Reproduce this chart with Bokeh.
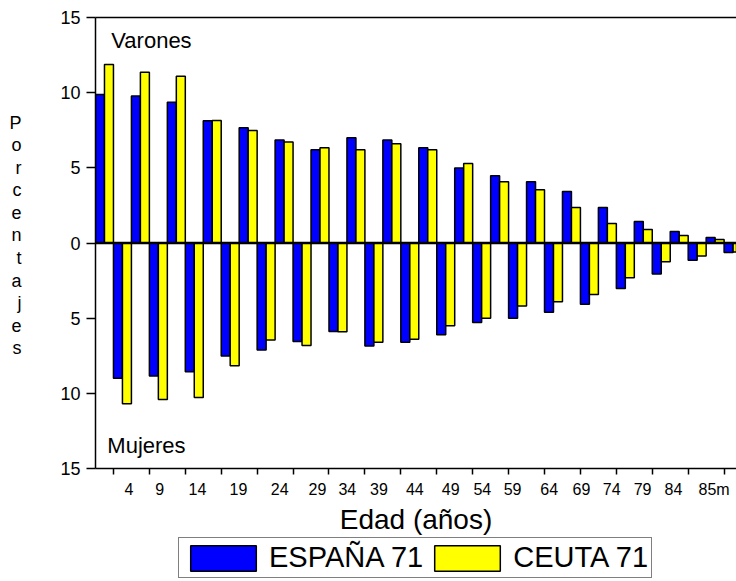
from bokeh.plotting import figure
from bokeh.layouts import column
from bokeh.models import Range1d, FixedTicker, LinearAxis, Span, Label, Legend, LegendItem
from bokeh.embed import file_html
from bokeh.resources import INLINE
import numpy as np

# ---- data ----
edades = ["4", "9", "14", "19", "24", "29", "34", "39", "44", "49", "54", "59",
          "64", "69", "74", "79", "84", "85m"]
espana_varones = [9.87, 9.77, 9.37, 8.13, 7.66, 6.85, 6.20, 7.00, 6.85, 6.34, 4.99, 4.48,
                  4.08, 3.42, 2.36, 1.43, 0.76, 0.36]
ceuta_varones = [11.87, 11.36, 11.09, 8.15, 7.49, 6.72, 6.34, 6.20, 6.60, 6.20, 5.28, 4.08,
                 3.55, 2.36, 1.29, 0.90, 0.50, 0.23]
espana_mujeres = [8.99, 8.84, 8.57, 7.51, 7.11, 6.56, 5.89, 6.85, 6.60, 6.10, 5.28, 5.01,
                  4.61, 4.08, 3.02, 2.07, 1.14, 0.63]
ceuta_mujeres = [10.70, 10.41, 10.27, 8.17, 6.45, 6.82, 5.90, 6.60, 6.40, 5.50, 5.01, 4.19,
                 3.90, 3.42, 2.31, 1.25, 0.87, 0.60]
y_ticks = [-15, -10, -5, 0, 5, 10, 15]
y_tick_labels = ["15", "10", "5", "0", "5", "10", "15"]
series_names = ["ESPAÑA 71", "CEUTA 71"]
y_title = "Porcentajes"
x_title = "Edad (años)"

# ---- layout constants ----
FONT = "Liberation Sans"
BLUE = "#0000FF"
YELLOW = "#FFFF00"
n = len(edades)
g = np.arange(n)
slot = 0.25
label_pos = [0.93, 1.79, 2.84, 3.98, 5.13, 6.18, 7.01, 7.89, 8.89, 9.89, 10.77, 11.61,
             12.63, 13.53, 14.37, 15.23, 16.09, 17.22]
letter_pos = [8.0 - 1.5 * i for i in range(len(y_title))]

p = figure(width=736, height=537, output_backend="svg", toolbar_location=None,
           x_range=Range1d(0, 17.845), y_range=Range1d(-15, 15),
           min_border_left=95, min_border_right=0, min_border_top=17,
           min_border_bottom=66)
p.xgrid.visible = False
p.ygrid.visible = False
p.outline_line_color = None
p.background_fill_color = "white"
p.border_fill_color = "white"

zeros = [0] * n
bar_kw = dict(width=slot, line_color="black", line_width=1.5)
p.vbar(x=g + slot * 0.5, bottom=zeros, top=espana_varones, fill_color=BLUE, **bar_kw)
p.vbar(x=g + slot * 1.5, bottom=zeros, top=ceuta_varones, fill_color=YELLOW, **bar_kw)
p.vbar(x=g + slot * 2.5, top=zeros, bottom=[-v for v in espana_mujeres], fill_color=BLUE, **bar_kw)
p.vbar(x=g + slot * 3.5, top=zeros, bottom=[-v for v in ceuta_mujeres], fill_color=YELLOW, **bar_kw)

p.add_layout(Span(location=0, dimension="width", line_color="black", line_width=2.5))

# x axis
xa = p.xaxis[0]
xa.ticker = FixedTicker(ticks=label_pos, minor_ticks=list(g + 0.5))
xa.major_label_overrides = {pos: lab for pos, lab in zip(label_pos, edades)}
xa.major_tick_out = 0
xa.major_tick_in = 0
xa.minor_tick_out = 6
xa.minor_tick_in = 0
xa.minor_tick_line_width = 1.5
xa.minor_tick_line_color = "black"
xa.axis_line_width = 1.5
xa.axis_line_color = "black"
xa.major_label_text_font = FONT
xa.major_label_text_font_size = "16px"
xa.major_label_text_color = "black"
xa.major_label_standoff = 6
xa.axis_label = x_title
xa.axis_label_text_font = FONT
xa.axis_label_text_font_size = "28px"
xa.axis_label_text_font_style = "normal"
xa.axis_label_text_color = "black"
xa.axis_label_standoff = 3

# y axis
ya = p.yaxis[0]
ya.ticker = FixedTicker(ticks=y_ticks)
ya.major_label_overrides = {t: lab for t, lab in zip(y_ticks, y_tick_labels)}
ya.major_tick_out = 9
ya.major_tick_in = 0
ya.minor_tick_out = 0
ya.minor_tick_in = 0
ya.major_tick_line_width = 1.5
ya.axis_line_width = 1.5
ya.axis_line_color = "black"
ya.major_tick_line_color = "black"
ya.major_label_text_font = FONT
ya.major_label_text_font_size = "18px"
ya.major_label_text_color = "black"
ya.major_label_standoff = 6

# vertical y title, one letter per line (drawn as a label-only axis)
ytitle_axis = LinearAxis(ticker=FixedTicker(ticks=letter_pos),
                         major_label_overrides={pos: ch for pos, ch in zip(letter_pos, y_title)},
                         axis_line_color=None, major_tick_out=0, major_tick_in=0,
                         minor_tick_out=0, minor_tick_in=0, major_label_standoff=36,
                         major_label_text_font=FONT, major_label_text_font_size="18px",
                         major_label_text_color="black")
p.add_layout(ytitle_axis, "left")

# top frame line
top = LinearAxis(ticker=FixedTicker(ticks=[]), major_tick_out=0, major_tick_in=0,
                 minor_tick_out=0, minor_tick_in=0, major_label_text_font_size="0px",
                 axis_line_width=1.5, axis_line_color="black")
p.add_layout(top, "above")

p.add_layout(Label(x=0.44, y=13.44, text="Varones", text_align="left", text_baseline="middle",
                   text_font=FONT, text_font_size="22px", text_color="black"))
p.add_layout(Label(x=0.33, y=-13.44, text="Mujeres", text_align="left", text_baseline="middle",
                   text_font=FONT, text_font_size="22px", text_color="black"))

# legend strip below the chart (its frame is aligned with the chart's frame)
pl = figure(width=736, height=44, output_backend="svg", toolbar_location=None,
            x_axis_type=None, y_axis_type=None,
            x_range=Range1d(0, 17.845), y_range=Range1d(-15, 15),
            min_border_left=0, min_border_right=0, min_border_top=0, min_border_bottom=0)
pl.xgrid.visible = False
pl.ygrid.visible = False
pl.outline_line_color = None
pl.background_fill_color = "white"
pl.border_fill_color = "white"
l_esp = pl.vbar(x=g + slot * 0.5, top=espana_varones, width=slot, fill_color=BLUE,
                line_color="black", line_width=1.5, visible=False)
l_ceu = pl.vbar(x=g + slot * 1.5, top=ceuta_varones, width=slot, fill_color=YELLOW,
                line_color="black", line_width=1.5, visible=False)
legend = Legend(items=[LegendItem(label=series_names[0], renderers=[l_esp]),
                       LegendItem(label=series_names[1], renderers=[l_ceu])],
                location=(83, 3), orientation="horizontal",
                glyph_width=82, glyph_height=32, label_height=30,
                label_text_font=FONT, label_text_font_size="29px", label_text_color="black",
                label_text_line_height=1.0,
                label_standoff=5, spacing=3, padding=3, margin=0,
                border_line_color="black", border_line_width=1.5,
                background_fill_color="white", background_fill_alpha=1.0,
                inactive_fill_alpha=0.0)
pl.add_layout(legend)

layout = column(p, pl, spacing=0)
open("out.html", "w").write(file_html(layout, INLINE))
